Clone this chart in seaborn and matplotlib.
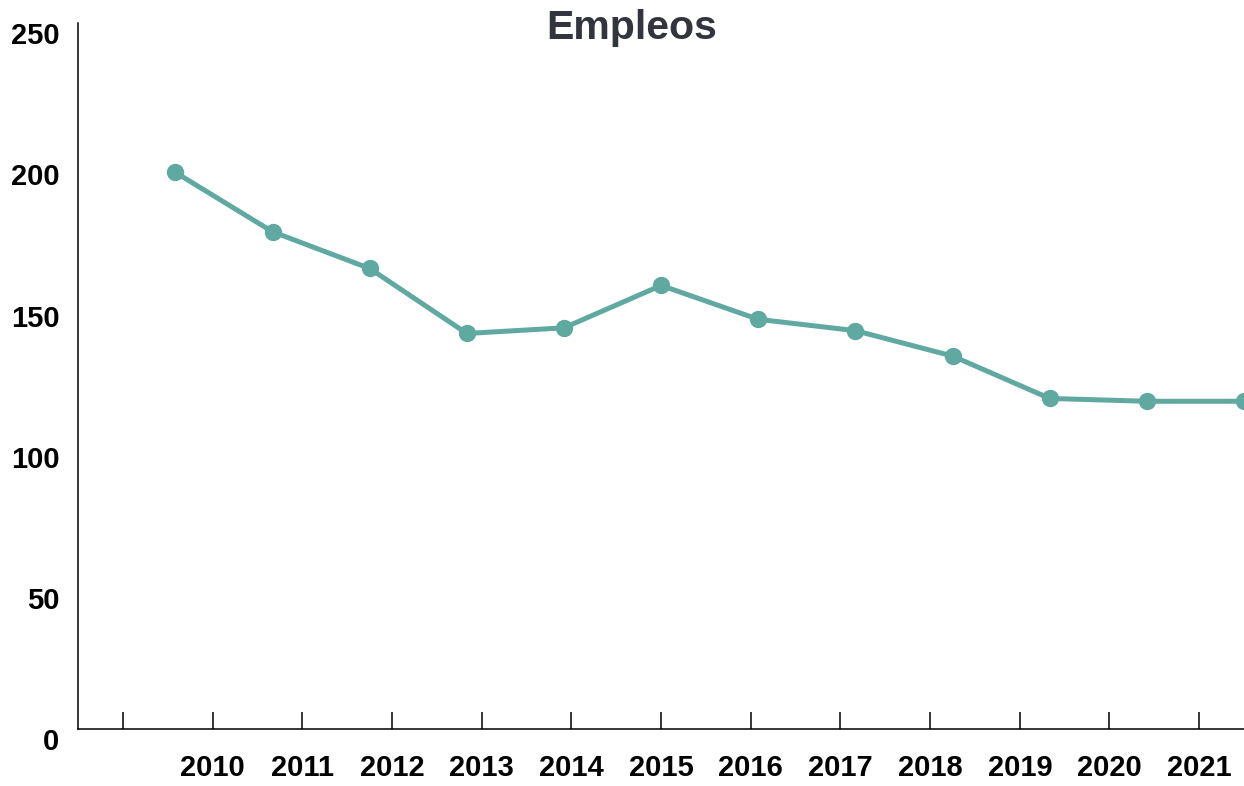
import matplotlib
matplotlib.use("Agg")
import matplotlib.pyplot as plt
import matplotlib.transforms as mtransforms
import pandas as pd
import seaborn as sns

# data
years = ["2010", "2011", "2012", "2013", "2014", "2015",
         "2016", "2017", "2018", "2019", "2020", "2021"]
empleos = [197, 176, 163, 140, 142, 157, 145, 141, 132, 117, 116, 116]
y_ticks = [0, 50, 100, 150, 200, 250]

df = pd.DataFrame({"pos": range(len(years)), "empleos": empleos})

sns.set_style("white")
plt.rcParams["font.family"] = ["Liberation Sans", "DejaVu Sans"]

fig = plt.figure(figsize=(12.44, 7.86), dpi=100)
ax = fig.add_axes([78.3 / 1244, 1 - 729 / 786, 1 - 78.3 / 1244, (729 - 22.7) / 786])

line_color = "#5fa9a1"
sns.lineplot(data=df, x="pos", y="empleos", ax=ax, color=line_color,
             linewidth=3.6, marker="o", markersize=12.5,
             markeredgecolor=line_color, markeredgewidth=0)

ax.set_xlim(-1, len(years) - 1)
ax.set_ylim(0, 250)

# band-style ticks: one empty band before the years
n_bands = len(years) + 1
tick_pos = [-1 + (len(years)) * (k + 0.5) / n_bands for k in range(n_bands)]
ax.set_xticks(tick_pos)
ax.set_xticklabels([""] + years, fontsize=21, fontweight="bold")
ax.tick_params(axis="x", bottom=True, direction="in", length=12, width=1.1,
               color="black", labelcolor="black", pad=18)

ax.set_yticks(y_ticks)
ax.set_yticklabels([str(v) for v in y_ticks], fontsize=21, fontweight="bold")
ax.tick_params(axis="y", length=0, pad=13.5, labelcolor="black")
shift = mtransforms.ScaledTranslation(0, -10.5 / 100, fig.dpi_scale_trans)
for lab in ax.get_yticklabels():
    lab.set_transform(lab.get_transform() + shift)

ax.set_xlabel("")
ax.set_ylabel("")
for s in ["top", "right"]:
    ax.spines[s].set_visible(False)
for s in ["left", "bottom"]:
    ax.spines[s].set_color("black")
    ax.spines[s].set_linewidth(1.1)

fig.text(632 / 1244, 1 - 28 / 786, "Empleos", ha="center", va="center",
         fontsize=29.5, fontweight="bold", color="#32353d")

fig.savefig("out.png", dpi=100)
